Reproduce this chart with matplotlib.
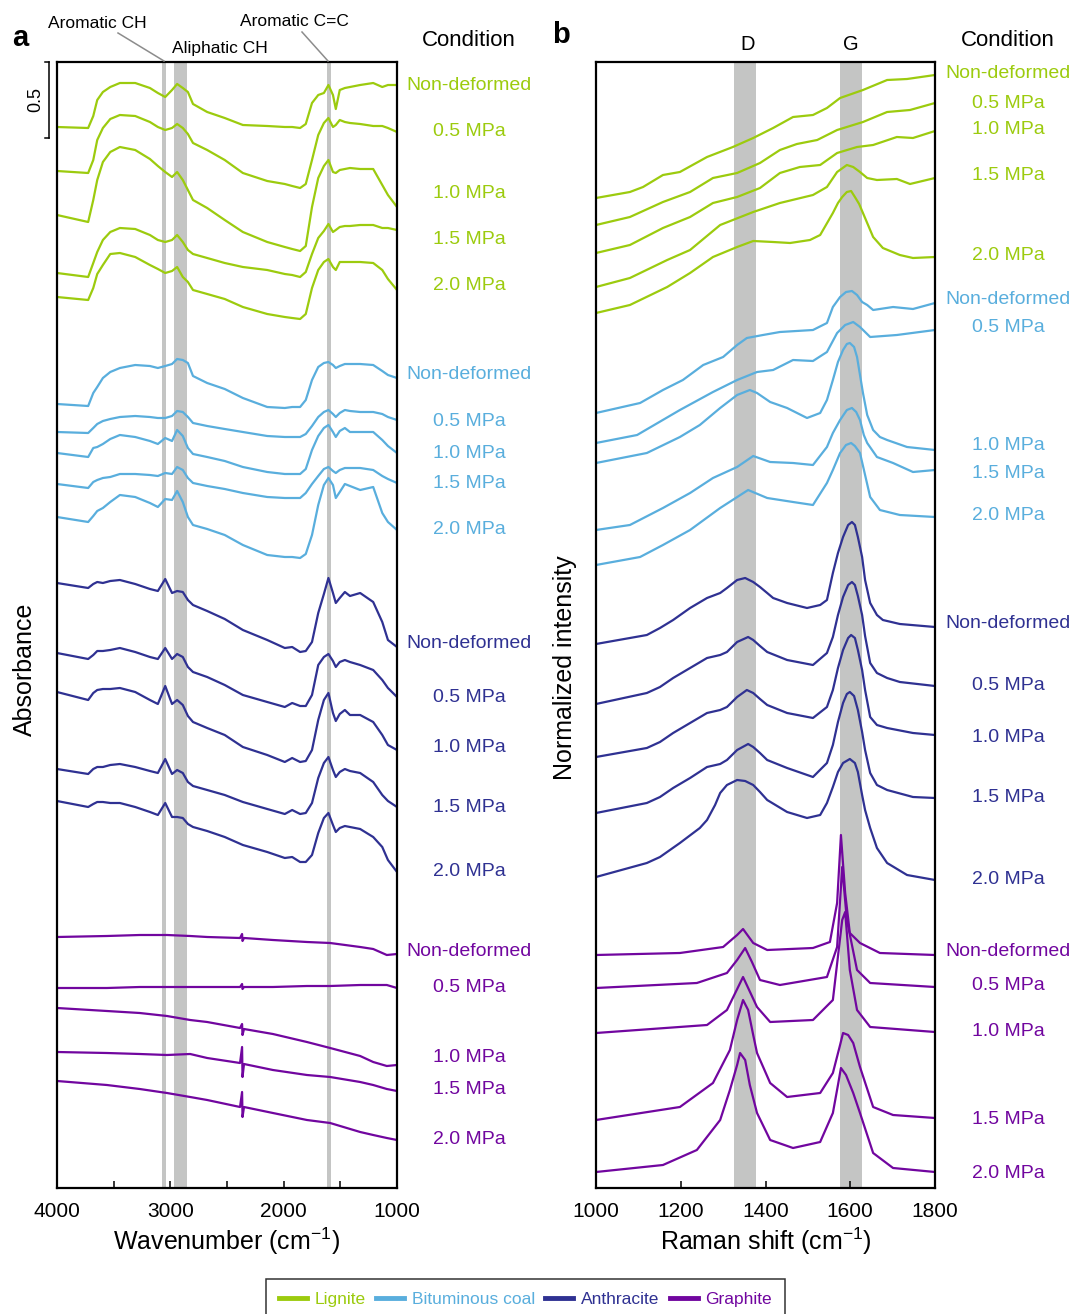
import matplotlib
matplotlib.use("Agg")
import matplotlib.pyplot as plt
from matplotlib.lines import Line2D
from matplotlib.transforms import blended_transform_factory

plt.rcParams['font.family'] = ['Liberation Sans', 'DejaVu Sans']
plt.rcParams['mathtext.fontset'] = 'custom'
plt.rcParams['mathtext.rm'] = 'Liberation Sans'
plt.rcParams['mathtext.it'] = 'Liberation Sans:italic'

# ---------------------------------------------------------------- data
MATERIALS = ["Lignite", "Bituminous coal", "Anthracite", "Graphite"]
CONDITIONS = ["Non-deformed", "0.5 MPa", "1.0 MPa", "1.5 MPa", "2.0 MPa"]

# FTIR spectra (stacked, arbitrary offset units)
FTIR_WAVENUMBER = [4000, 3725, 3680, 3645, 3595, 3530, 3445, 3310, 3180, 3110,
                   3045, 2985, 2940, 2890, 2845, 2800, 2675, 2520, 2360, 2145,
                   1990, 1925, 1855, 1805, 1750, 1695, 1645, 1605, 1565, 1540,
                   1505, 1460, 1415, 1325, 1210, 1130, 1080, 1000]

LIGNITE_FTIR = [
    [10.61, 10.60, 10.72, 10.88, 10.96, 11.01, 11.05, 11.05, 11.00, 10.95, 10.91, 10.98, 11.04, 11.00, 10.96, 10.84, 10.76, 10.70, 10.63, 10.62, 10.61, 10.61, 10.60, 10.64, 10.85, 10.93, 10.95, 11.03, 10.93, 10.79, 10.98, 11.00, 11.01, 11.03, 11.05, 11.01, 11.03, 11.03],
    [10.17, 10.15, 10.28, 10.48, 10.60, 10.69, 10.73, 10.72, 10.66, 10.61, 10.58, 10.60, 10.64, 10.60, 10.54, 10.45, 10.38, 10.28, 10.15, 10.07, 10.04, 10.02, 10.00, 10.04, 10.28, 10.53, 10.65, 10.70, 10.61, 10.63, 10.68, 10.66, 10.65, 10.64, 10.62, 10.62, 10.60, 10.56],
    [9.73, 9.66, 9.88, 10.08, 10.26, 10.36, 10.41, 10.38, 10.29, 10.22, 10.16, 10.11, 10.16, 10.08, 9.98, 9.88, 9.80, 9.68, 9.56, 9.46, 9.41, 9.39, 9.37, 9.42, 9.81, 10.10, 10.22, 10.28, 10.16, 10.15, 10.18, 10.19, 10.20, 10.19, 10.19, 10.03, 9.93, 9.81],
    [9.15, 9.11, 9.25, 9.36, 9.48, 9.56, 9.60, 9.59, 9.53, 9.48, 9.46, 9.48, 9.53, 9.46, 9.38, 9.34, 9.30, 9.25, 9.21, 9.18, 9.14, 9.13, 9.11, 9.16, 9.34, 9.50, 9.57, 9.64, 9.56, 9.58, 9.61, 9.62, 9.62, 9.63, 9.63, 9.60, 9.60, 9.58],
    [8.91, 8.88, 9.00, 9.14, 9.23, 9.34, 9.35, 9.31, 9.23, 9.19, 9.15, 9.17, 9.21, 9.11, 9.06, 8.98, 8.94, 8.89, 8.81, 8.74, 8.71, 8.70, 8.69, 8.74, 9.00, 9.18, 9.26, 9.29, 9.21, 9.18, 9.26, 9.26, 9.26, 9.26, 9.25, 9.18, 9.09, 8.98],
]
BITUMINOUS_FTIR = [
    [7.84, 7.82, 7.95, 8.01, 8.10, 8.16, 8.20, 8.23, 8.22, 8.20, 8.22, 8.24, 8.29, 8.28, 8.25, 8.12, 8.05, 7.99, 7.90, 7.81, 7.80, 7.81, 7.81, 7.88, 8.08, 8.21, 8.25, 8.26, 8.23, 8.20, 8.22, 8.24, 8.24, 8.24, 8.23, 8.17, 8.13, 8.10],
    [7.56, 7.55, 7.60, 7.64, 7.67, 7.69, 7.71, 7.72, 7.71, 7.70, 7.70, 7.72, 7.77, 7.76, 7.71, 7.65, 7.62, 7.59, 7.56, 7.52, 7.51, 7.51, 7.51, 7.54, 7.62, 7.71, 7.76, 7.78, 7.74, 7.71, 7.75, 7.78, 7.77, 7.76, 7.76, 7.74, 7.71, 7.68],
    [7.35, 7.31, 7.40, 7.41, 7.44, 7.49, 7.53, 7.51, 7.47, 7.44, 7.50, 7.47, 7.58, 7.52, 7.40, 7.34, 7.31, 7.27, 7.21, 7.16, 7.14, 7.14, 7.14, 7.19, 7.38, 7.52, 7.60, 7.63, 7.56, 7.51, 7.57, 7.60, 7.56, 7.56, 7.56, 7.48, 7.42, 7.35],
    [7.04, 7.00, 7.06, 7.08, 7.10, 7.11, 7.14, 7.14, 7.13, 7.12, 7.15, 7.14, 7.21, 7.18, 7.10, 7.05, 7.02, 6.99, 6.95, 6.91, 6.90, 6.90, 6.90, 6.95, 7.04, 7.12, 7.19, 7.21, 7.17, 7.15, 7.18, 7.20, 7.20, 7.20, 7.18, 7.12, 7.09, 7.05],
    [6.71, 6.66, 6.72, 6.77, 6.80, 6.86, 6.93, 6.91, 6.85, 6.81, 6.89, 6.88, 6.97, 6.86, 6.71, 6.63, 6.59, 6.53, 6.43, 6.33, 6.31, 6.31, 6.30, 6.34, 6.53, 6.83, 7.03, 7.10, 7.03, 6.90, 6.96, 7.04, 7.02, 6.98, 7.01, 6.75, 6.66, 6.58],
]
ANTHRACITE_FTIR = [
    [6.05, 6.00, 6.04, 6.06, 6.05, 6.07, 6.08, 6.04, 5.99, 5.97, 6.09, 5.95, 5.97, 5.96, 5.88, 5.83, 5.77, 5.69, 5.58, 5.48, 5.40, 5.41, 5.36, 5.37, 5.46, 5.75, 5.94, 6.10, 5.95, 5.85, 5.90, 5.96, 5.92, 5.95, 5.86, 5.66, 5.48, 5.41],
    [5.35, 5.29, 5.33, 5.37, 5.37, 5.38, 5.40, 5.36, 5.31, 5.29, 5.40, 5.29, 5.34, 5.31, 5.21, 5.16, 5.11, 5.03, 4.93, 4.86, 4.81, 4.85, 4.82, 4.82, 4.93, 5.23, 5.31, 5.34, 5.27, 5.21, 5.26, 5.28, 5.26, 5.23, 5.18, 5.08, 5.00, 4.91],
    [4.96, 4.88, 4.95, 4.98, 4.99, 4.99, 5.00, 4.96, 4.88, 4.84, 5.02, 4.84, 4.88, 4.83, 4.72, 4.66, 4.60, 4.53, 4.41, 4.33, 4.26, 4.30, 4.26, 4.27, 4.38, 4.68, 4.88, 4.95, 4.75, 4.67, 4.74, 4.78, 4.73, 4.73, 4.66, 4.53, 4.43, 4.38],
    [4.19, 4.14, 4.19, 4.21, 4.21, 4.23, 4.24, 4.21, 4.17, 4.15, 4.29, 4.14, 4.18, 4.15, 4.06, 4.02, 3.98, 3.93, 3.86, 3.79, 3.74, 3.78, 3.74, 3.75, 3.85, 4.10, 4.25, 4.31, 4.18, 4.11, 4.16, 4.19, 4.17, 4.15, 4.06, 3.93, 3.87, 3.81],
    [3.87, 3.81, 3.84, 3.86, 3.86, 3.85, 3.85, 3.81, 3.76, 3.73, 3.85, 3.71, 3.71, 3.70, 3.64, 3.61, 3.57, 3.51, 3.43, 3.36, 3.30, 3.31, 3.26, 3.26, 3.33, 3.55, 3.70, 3.75, 3.63, 3.56, 3.60, 3.62, 3.61, 3.59, 3.51, 3.41, 3.28, 3.16],
]
GRAPHITE_WAVENUMBER = [4000, 3560, 3270, 3030, 2825, 2675, 2385, 2367, 2363, 2350,
                       2095, 1795, 1590, 1325, 1210, 1090, 1000]
GRAPHITE_FTIR = [
    [2.51, 2.52, 2.53, 2.53, 2.52, 2.51, 2.50, 2.54, 2.47, 2.50, 2.48, 2.46, 2.45, 2.41, 2.39, 2.33, 2.34],
    [2.00, 2.00, 2.01, 2.01, 2.01, 2.01, 2.01, 2.04, 1.99, 2.01, 2.01, 2.02, 2.02, 2.03, 2.03, 2.03, 2.00],
    [1.80, 1.77, 1.75, 1.72, 1.68, 1.66, 1.60, 1.64, 1.53, 1.59, 1.54, 1.46, 1.40, 1.32, 1.26, 1.22, 1.23],
    [1.36, 1.35, 1.34, 1.33, 1.34, 1.30, 1.25, 1.41, 1.11, 1.24, 1.18, 1.13, 1.11, 1.06, 1.03, 0.99, 0.97],
    [1.07, 1.03, 0.99, 0.95, 0.91, 0.88, 0.81, 0.96, 0.71, 0.81, 0.75, 0.68, 0.65, 0.56, 0.53, 0.50, 0.48],
]

# Raman spectra (normalized, stacked)
LIGNITE_RAMAN_SHIFT = [
    [1000, 1080, 1111, 1158, 1198, 1262, 1323, 1371, 1418, 1465, 1512, 1545, 1576, 1630, 1687, 1734, 1800],
    [1000, 1080, 1158, 1222, 1276, 1333, 1387, 1434, 1474, 1522, 1569, 1630, 1687, 1741, 1800],
    [1000, 1080, 1158, 1222, 1276, 1333, 1387, 1434, 1481, 1529, 1569, 1616, 1654, 1710, 1748, 1800],
    [1000, 1080, 1168, 1222, 1293, 1371, 1434, 1512, 1545, 1569, 1592, 1607, 1623, 1640, 1663, 1710, 1741, 1800],
    [1000, 1080, 1168, 1222, 1276, 1333, 1371, 1418, 1458, 1505, 1529, 1559, 1571, 1581, 1592, 1602, 1611, 1621, 1630, 1654, 1677, 1717, 1748, 1800],
]
LIGNITE_RAMAN = [
    [9.90, 9.96, 10.01, 10.13, 10.16, 10.31, 10.41, 10.50, 10.60, 10.71, 10.73, 10.80, 10.90, 10.98, 11.08, 11.09, 11.13],
    [9.63, 9.71, 9.86, 9.96, 10.10, 10.15, 10.25, 10.38, 10.44, 10.48, 10.58, 10.66, 10.76, 10.78, 10.85],
    [9.35, 9.43, 9.60, 9.71, 9.85, 9.91, 10.00, 10.15, 10.21, 10.23, 10.35, 10.41, 10.43, 10.51, 10.50, 10.57],
    [9.01, 9.10, 9.28, 9.38, 9.63, 9.76, 9.85, 9.93, 10.01, 10.16, 10.23, 10.21, 10.16, 10.10, 10.08, 10.09, 10.04, 10.10],
    [8.75, 8.83, 9.01, 9.15, 9.31, 9.41, 9.47, 9.46, 9.45, 9.48, 9.53, 9.75, 9.85, 9.91, 9.96, 9.97, 9.91, 9.84, 9.75, 9.51, 9.40, 9.33, 9.30, 9.31],
]
BITUMINOUS_RAMAN_SHIFT = [
    [1000, 1104, 1158, 1205, 1253, 1300, 1333, 1356, 1394, 1434, 1512, 1545, 1559, 1576, 1590, 1604, 1616, 1628, 1640, 1654, 1701, 1748, 1800],
    [1000, 1097, 1198, 1276, 1333, 1380, 1418, 1465, 1512, 1545, 1569, 1588, 1607, 1623, 1647, 1710, 1800],
    [1000, 1120, 1198, 1245, 1293, 1333, 1363, 1380, 1411, 1451, 1498, 1529, 1545, 1559, 1571, 1583, 1592, 1599, 1609, 1616, 1623, 1630, 1640, 1654, 1670, 1687, 1734, 1800],
    [1000, 1080, 1158, 1222, 1276, 1333, 1371, 1411, 1465, 1512, 1545, 1559, 1576, 1592, 1604, 1614, 1623, 1632, 1640, 1663, 1701, 1748, 1800],
    [1000, 1104, 1158, 1222, 1293, 1359, 1404, 1465, 1512, 1545, 1559, 1576, 1590, 1602, 1611, 1623, 1635, 1647, 1670, 1717, 1800],
]
BITUMINOUS_RAMAN = [
    [7.75, 7.85, 7.98, 8.08, 8.23, 8.31, 8.43, 8.50, 8.53, 8.56, 8.58, 8.65, 8.81, 8.91, 8.96, 8.97, 8.93, 8.86, 8.83, 8.78, 8.81, 8.79, 8.85],
    [7.45, 7.53, 7.78, 7.96, 8.08, 8.16, 8.18, 8.28, 8.27, 8.36, 8.55, 8.63, 8.66, 8.61, 8.51, 8.53, 8.58],
    [7.25, 7.35, 7.51, 7.63, 7.80, 7.93, 7.98, 7.95, 7.86, 7.80, 7.70, 7.75, 7.88, 8.08, 8.26, 8.38, 8.44, 8.45, 8.41, 8.31, 8.13, 7.95, 7.73, 7.58, 7.51, 7.48, 7.41, 7.38],
    [6.58, 6.63, 6.80, 6.95, 7.10, 7.21, 7.32, 7.26, 7.25, 7.23, 7.41, 7.55, 7.68, 7.78, 7.80, 7.76, 7.68, 7.53, 7.45, 7.31, 7.25, 7.16, 7.18],
    [6.23, 6.31, 6.43, 6.58, 6.80, 6.98, 6.90, 6.86, 6.83, 7.05, 7.18, 7.35, 7.43, 7.45, 7.42, 7.35, 7.13, 6.91, 6.78, 6.73, 6.71],
]
ANTHRACITE_RAMAN_SHIFT = [
    [1000, 1120, 1151, 1182, 1222, 1262, 1293, 1309, 1333, 1352, 1371, 1387, 1404, 1418, 1451, 1498, 1529, 1545, 1559, 1571, 1583, 1595, 1604, 1611, 1618, 1628, 1635, 1647, 1663, 1677, 1717, 1800],
    [1000, 1120, 1151, 1182, 1222, 1262, 1293, 1309, 1333, 1359, 1371, 1387, 1404, 1451, 1512, 1545, 1559, 1571, 1583, 1595, 1604, 1611, 1618, 1628, 1635, 1647, 1663, 1687, 1717, 1800],
    [1000, 1120, 1151, 1182, 1222, 1262, 1293, 1309, 1333, 1356, 1371, 1387, 1404, 1451, 1512, 1545, 1559, 1571, 1583, 1595, 1602, 1611, 1618, 1628, 1635, 1647, 1663, 1687, 1748, 1800],
    [1000, 1120, 1151, 1182, 1222, 1262, 1293, 1309, 1333, 1359, 1371, 1387, 1404, 1451, 1512, 1545, 1559, 1571, 1583, 1592, 1599, 1609, 1618, 1628, 1635, 1647, 1663, 1687, 1748, 1800],
    [1000, 1120, 1151, 1198, 1245, 1262, 1281, 1293, 1309, 1333, 1352, 1371, 1387, 1404, 1451, 1498, 1529, 1545, 1559, 1571, 1583, 1599, 1611, 1618, 1628, 1635, 1647, 1663, 1687, 1734, 1800],
]
ANTHRACITE_RAMAN = [
    [5.44, 5.53, 5.60, 5.68, 5.80, 5.90, 5.95, 6.00, 6.08, 6.10, 6.06, 6.01, 5.95, 5.90, 5.85, 5.80, 5.83, 5.88, 6.15, 6.35, 6.51, 6.63, 6.66, 6.63, 6.51, 6.31, 6.08, 5.85, 5.73, 5.68, 5.64, 5.61],
    [4.84, 4.95, 5.01, 5.10, 5.20, 5.30, 5.33, 5.36, 5.46, 5.51, 5.48, 5.42, 5.36, 5.28, 5.23, 5.35, 5.51, 5.73, 5.91, 6.03, 6.06, 6.03, 5.92, 5.73, 5.52, 5.25, 5.15, 5.10, 5.06, 5.02],
    [4.31, 4.40, 4.46, 4.55, 4.65, 4.75, 4.78, 4.81, 4.91, 4.98, 4.95, 4.89, 4.83, 4.75, 4.70, 4.81, 4.98, 5.20, 5.38, 5.50, 5.53, 5.50, 5.38, 5.18, 4.98, 4.71, 4.63, 4.60, 4.55, 4.53],
    [3.75, 3.85, 3.91, 4.00, 4.10, 4.21, 4.24, 4.28, 4.38, 4.44, 4.41, 4.35, 4.28, 4.20, 4.11, 4.25, 4.43, 4.66, 4.85, 4.94, 4.96, 4.92, 4.78, 4.56, 4.38, 4.15, 4.03, 3.98, 3.91, 3.90],
    [3.11, 3.25, 3.31, 3.45, 3.60, 3.68, 3.83, 3.95, 4.03, 4.08, 4.07, 4.03, 3.96, 3.88, 3.76, 3.70, 3.73, 3.85, 4.01, 4.16, 4.25, 4.29, 4.25, 4.16, 3.93, 3.78, 3.60, 3.40, 3.25, 3.13, 3.08],
]
GRAPHITE_RAMAN_SHIFT = [
    [1000, 1198, 1300, 1333, 1347, 1371, 1404, 1512, 1552, 1569, 1578, 1588, 1599, 1623, 1670, 1800],
    [1000, 1238, 1309, 1333, 1352, 1368, 1387, 1434, 1545, 1569, 1581, 1592, 1616, 1647, 1800],
    [1000, 1262, 1309, 1347, 1380, 1411, 1512, 1559, 1581, 1588, 1599, 1616, 1647, 1800],
    [1000, 1198, 1276, 1316, 1333, 1347, 1359, 1371, 1380, 1411, 1451, 1529, 1559, 1576, 1583, 1595, 1607, 1623, 1654, 1701, 1800],
    [1000, 1158, 1238, 1293, 1316, 1333, 1340, 1352, 1363, 1380, 1411, 1465, 1529, 1559, 1571, 1578, 1590, 1607, 1623, 1654, 1701, 1800],
]
GRAPHITE_RAMAN = [
    [2.33, 2.35, 2.41, 2.53, 2.59, 2.45, 2.38, 2.40, 2.46, 2.85, 3.53, 2.95, 2.55, 2.45, 2.35, 2.33],
    [2.00, 2.05, 2.15, 2.28, 2.40, 2.26, 2.08, 2.03, 2.11, 2.41, 3.21, 2.68, 2.18, 2.05, 2.01],
    [1.55, 1.63, 1.78, 2.11, 1.81, 1.66, 1.68, 1.88, 2.68, 2.76, 2.18, 1.78, 1.61, 1.56],
    [0.68, 0.81, 1.05, 1.38, 1.68, 1.88, 1.78, 1.53, 1.35, 1.05, 0.91, 0.95, 1.15, 1.43, 1.55, 1.53, 1.45, 1.21, 0.81, 0.73, 0.70],
    [0.16, 0.23, 0.38, 0.68, 0.98, 1.23, 1.35, 1.28, 1.03, 0.75, 0.48, 0.40, 0.46, 0.75, 1.03, 1.20, 1.13, 0.95, 0.75, 0.35, 0.20, 0.16],
]

# band assignments (cm-1)
FTIR_BANDS = [(3040, 3075), (2855, 2970), (1585, 1620)]
RAMAN_BANDS = [(1326, 1378), (1576, 1628)]
ABS_SCALE = 1.52          # offset units per absorbance unit
SCALE_BAR_ABS = 0.5

# ---------------------------------------------------------------- style / layout
COLORS = ['#9ccb0e', '#59aedd', '#2f3192', '#71069f']
BAND_COLOR = '#c4c5c4'
W, H = 1073, 1314
YMAX = 11.26
LABEL_Y_A = [[86, 132, 194, 239, 285], [375, 421, 454, 484, 530],
             [643, 697, 748, 808, 872], [951, 988, 1058, 1090, 1139]]
LABEL_Y_B = [[74, 103, 130, 176, 256], [299, 327, 446, 473, 515],
             [624, 686, 737, 797, 880], [951, 986, 1032, 1119, 1173]]


def fx(px):
    return px / W


def fy(py):
    return 1 - py / H


fig = plt.figure(figsize=(W / 100, H / 100), dpi=100)
ax_a = fig.add_axes([fx(57), fy(1188), (397 - 57) / W, (1188 - 62) / H])
ax_b = fig.add_axes([fx(596), fy(1188), (935 - 596) / W, (1188 - 62) / H])

for ax in (ax_a, ax_b):
    for sp in ax.spines.values():
        sp.set_linewidth(1.6)
    ax.set_yticks([])
    ax.set_ylim(0, YMAX)
    ax.tick_params(axis='x', which='both', direction='in', length=5, width=1.1,
                   labelsize=15, pad=10)

line_kw = dict(solid_joinstyle='round', solid_capstyle='round', zorder=2)

# panel a: FTIR
ax_a.set_xlim(4000, 1000)
ax_a.set_xticks([4000, 3000, 2000, 1000])
ax_a.set_xticks([3500, 2500, 1500], minor=True)
for lo, hi in FTIR_BANDS:
    ax_a.axvspan(lo, hi, color=BAND_COLOR, lw=0, zorder=0)

coal_ftir = [LIGNITE_FTIR, BITUMINOUS_FTIR, ANTHRACITE_FTIR]
for color, group in zip(COLORS[:3], coal_ftir):
    for ys in group:
        ax_a.plot(FTIR_WAVENUMBER, ys, color=color, lw=1.6, **line_kw)
for ys in GRAPHITE_FTIR:
    ax_a.plot(GRAPHITE_WAVENUMBER, ys, color=COLORS[3], lw=1.6, **line_kw)

# panel b: Raman
ax_b.set_xlim(1000, 1800)
ax_b.set_xticks([1000, 1200, 1400, 1600, 1800])
for lo, hi in RAMAN_BANDS:
    ax_b.axvspan(lo, hi, color=BAND_COLOR, lw=0, zorder=0)
raman = [(LIGNITE_RAMAN_SHIFT, LIGNITE_RAMAN),
         (BITUMINOUS_RAMAN_SHIFT, BITUMINOUS_RAMAN),
         (ANTHRACITE_RAMAN_SHIFT, ANTHRACITE_RAMAN),
         (GRAPHITE_RAMAN_SHIFT, GRAPHITE_RAMAN)]
for color, (xs_group, ys_group) in zip(COLORS, raman):
    for xs, ys in zip(xs_group, ys_group):
        ax_b.plot(xs, ys, color=color, lw=1.6, **line_kw)

# condition labels
for gi, color in enumerate(COLORS):
    for ci, cond in enumerate(CONDITIONS):
        fig.text(fx(469), fy(LABEL_Y_A[gi][ci]), cond, color=color, fontsize=14,
                 ha='center', va='center')
        fig.text(fx(1008), fy(LABEL_Y_B[gi][ci]), cond, color=color, fontsize=14,
                 ha='center', va='center')
fig.text(fx(469), fy(41), "Condition", fontsize=16, ha='center', va='center')
fig.text(fx(1008), fy(41), "Condition", fontsize=16, ha='center', va='center')

# panel letters and axis titles
fig.text(fx(20), fy(38), "a", fontsize=21, fontweight='bold', ha='center', va='center')
fig.text(fx(561), fy(35), "b", fontsize=21, fontweight='bold', ha='center', va='center')
fig.text(fx(25), fy(669), "Absorbance", fontsize=18, rotation=90, ha='center', va='center')
fig.text(fx(565), fy(668), "Normalized intensity", fontsize=18, rotation=90,
         ha='center', va='center')
fig.text(fx(227), fy(1241), r"Wavenumber (cm$^{\mathregular{-1}}$)", fontsize=18,
         ha='center', va='center')
fig.text(fx(766), fy(1241), r"Raman shift (cm$^{\mathregular{-1}}$)", fontsize=18,
         ha='center', va='center')

# band annotations
fig.text(fx(97), fy(24), "Aromatic CH", fontsize=12.5, ha='center', va='center')
fig.text(fx(220), fy(48), "Aliphatic CH", fontsize=12.5, ha='center', va='center')
fig.text(fx(294), fy(21), "Aromatic C=C", fontsize=12.5, ha='center', va='center')
fig.add_artist(Line2D([fx(118), fx(164)], [fy(33), fy(61)], color='#8c8c8c', lw=1.1))
fig.add_artist(Line2D([fx(302), fx(328)], [fy(32), fy(61)], color='#8c8c8c', lw=1.1))
fig.text(fx(748), fy(45), "D", fontsize=14.5, ha='center', va='center')
fig.text(fx(851), fy(45), "G", fontsize=14.5, ha='center', va='center')

# absorbance scale bar
tr = blended_transform_factory(ax_a.transAxes, ax_a.transData)
bar_top = YMAX
bar_bot = YMAX - SCALE_BAR_ABS * ABS_SCALE
ax_a.plot([-0.024, -0.024], [bar_top, bar_bot], color='black', lw=1.1,
          transform=tr, clip_on=False)
for yv in (bar_top, bar_bot):
    ax_a.plot([-0.036, -0.024], [yv, yv], color='black', lw=1.1,
              transform=tr, clip_on=False)
ax_a.text(-0.062, (bar_top + bar_bot) / 2, f"{SCALE_BAR_ABS}", transform=tr,
          rotation=90, fontsize=13, ha='center', va='center')

# legend
handles = [Line2D([], [], color=c, lw=3.5) for c in COLORS]
leg = fig.legend(handles, MATERIALS, loc='upper center',
                 bbox_to_anchor=(fx(525.5), fy(1279)), ncol=4, fontsize=12.5,
                 frameon=True, fancybox=False, edgecolor='black',
                 handlelength=1.6, handletextpad=0.45, columnspacing=0.6,
                 borderpad=0.75, borderaxespad=0)
leg.get_frame().set_linewidth(1.1)
for txt, c in zip(leg.get_texts(), COLORS):
    txt.set_color(c)

fig.savefig("out.png", dpi=100)
